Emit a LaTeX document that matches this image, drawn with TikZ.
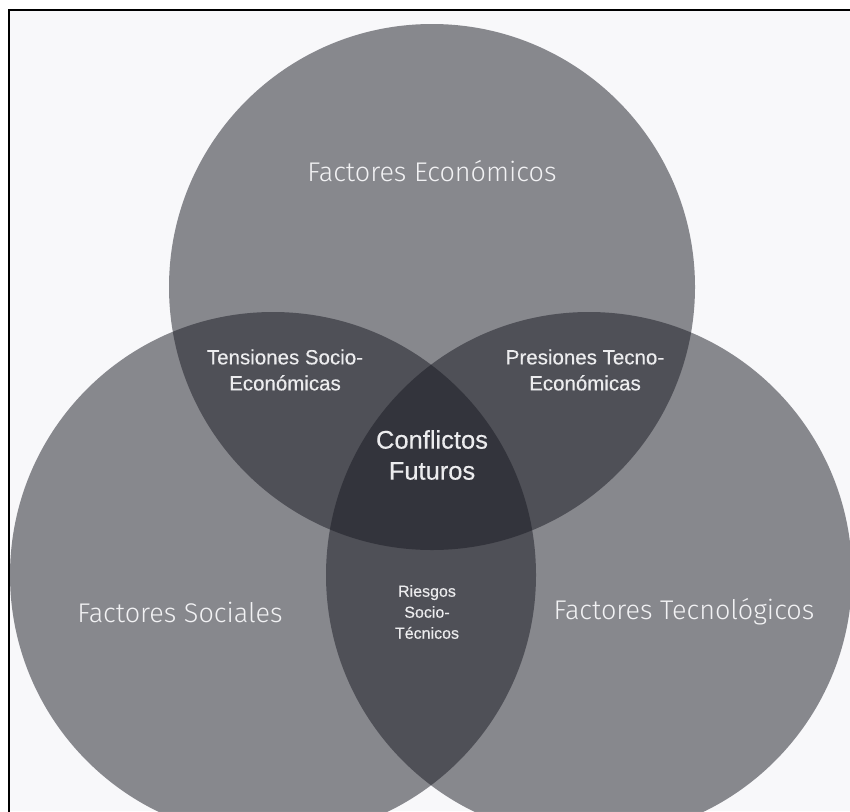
\documentclass[tikz,border=0pt]{standalone}
\usepackage{fontspec}
\setmainfont{Liberation Sans}
\newfontfamily\lightfont{Fira Sans Light}
\newfontfamily\medfont[FakeBold=0.4]{Liberation Sans}
\definecolor{bgpanel}{RGB}{248,248,250}
\definecolor{vennfill}{RGB}{24,25,34}
\definecolor{labelcol}{RGB}{242,242,244}
\definecolor{innercol}{RGB}{236,236,238}
\tikzset{
  venn/.style={circle, minimum size=526pt, inner sep=0pt, fill=vennfill, fill opacity=0.5, draw=none},
  outerlabel/.style={text=labelcol, font=\lightfont\fontsize{27}{30}\selectfont, align=center, inner sep=0pt},
  innerlabel/.style={text=innercol, font=\medfont\fontsize{20.5}{26}\selectfont, align=center, inner sep=0pt},
  corelabel/.style={text=innercol, font=\medfont\fontsize{25.5}{31}\selectfont, align=center, inner sep=0pt},
  smalllabel/.style={text=innercol, font=\medfont\fontsize{16}{21}\selectfont, align=center, inner sep=0pt}
}
\begin{document}
\begin{tikzpicture}[x=1pt,y=-1pt]
\useasboundingbox (0,0) rectangle (850,811);
\fill[white] (0,0) rectangle (850,811);
\begin{scope}
\clip (9,10) rectangle (850,811);
\fill[bgpanel] (9,10) rectangle (850,811);
\node[venn] (eco) at (432,287) {};
\node[venn] (soc) at (273,575) {};
\node[venn] (tec) at (589,575) {};
\end{scope}
\draw[black, line width=2pt] (9,812) -- (9,10) -- (851,10);
\node[outerlabel] (leco) at (432,171) {Factores Económicos};
\node[outerlabel] (lsoc) at (180,612) {Factores Sociales};
\node[outerlabel] (ltec) at (684,612) {Factores Tecnológicos};
\node[innerlabel] (tse) at (285,370) {Tensiones Socio-\\Económicas};
\node[innerlabel] (pte) at (585,370) {Presiones Tecno-\\Económicas};
\node[corelabel] (cf) at (432,455) {Conflictos\\Futuros};
\node[smalllabel] (rst) at (427,612) {Riesgos\\Socio-\\Técnicos};
\end{tikzpicture}
\end{document}
